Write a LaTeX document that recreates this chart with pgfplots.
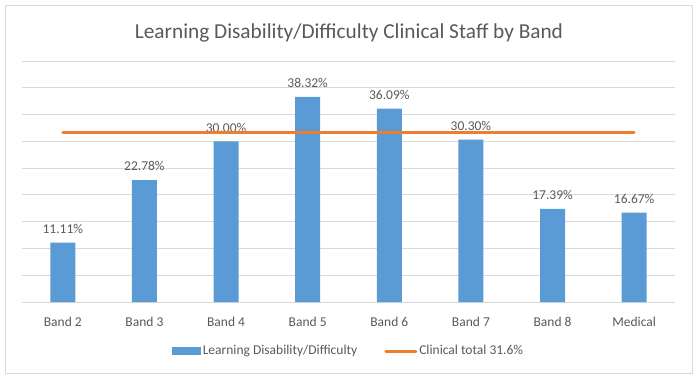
\documentclass[border=0pt]{standalone}
\usepackage{pgfplots}
\pgfplotsset{compat=1.18}
\usepackage{fontspec}
\setmainfont{Carlito}
\definecolor{barblue}{HTML}{5B9BD5}
\definecolor{lineorange}{HTML}{ED7D31}
\definecolor{gridgray}{HTML}{D9D9D9}
\definecolor{textgray}{HTML}{595959}
\begin{document}
\begin{tikzpicture}
\path[use as bounding box] (-22bp,-80bp) rectangle (678bp,302bp);
\draw[gridgray, line width=1bp] (-16.5bp,-71.5bp) rectangle (670.5bp,296.5bp);
\node[text=textgray, font=\fontsize{21.3bp}{25bp}\selectfont] at (327bp,269.5bp) {Learning Disability/Difficulty Clinical Staff by Band};
\begin{axis}[
  at={(40.8bp,0)}, anchor=origin,
  scale only axis,
  width=653bp, height=241bp,
  xmin=-0.5, xmax=7.5,
  ymin=0, ymax=45,
  ytick={0,5,...,45},
  yticklabels={},
  xtick={0,...,7},
  xticklabels={Band 2,Band 3,Band 4,Band 5,Band 6,Band 7,Band 8,Medical},
  major tick length=0pt,
  axis line style={draw=none},
  ymajorgrids, grid style={gridgray, line width=1bp},
  xticklabel style={text=textgray, font=\fontsize{13.5bp}{16bp}\selectfont, anchor=base, yshift=-24bp},
  clip mode=individual,
  legend style={at={(0.5,0)}, anchor=center, yshift=-49bp, draw=none, fill=none,
    legend columns=2, font=\fontsize{13.5bp}{16bp}\selectfont, text=textgray,
    /tikz/every even column/.append style={column sep=25bp}},
  legend image code/.code={},
]
\addplot[ybar, bar width=25bp, fill=barblue, draw=none,
  nodes near coords={\pgfmathprintnumber[fixed,zerofill,precision=2]{\pgfplotspointmeta}\%},
  nodes near coords style={text=textgray, font=\fontsize{13.5bp}{16bp}\selectfont, anchor=south, inner sep=0pt, yshift=9bp},
  /pgf/number format/assume math mode=true,
  legend image code/.code={\fill[barblue] (0bp,-4bp) rectangle (29bp,4bp);}
] coordinates {(0,11.11) (1,22.78) (2,30.00) (3,38.32) (4,36.09) (5,30.30) (6,17.39) (7,16.67)};
\addlegendentry{Learning Disability/Difficulty}
\addplot[lineorange, line width=3bp, line cap=round, mark=none,
  legend image code/.code={\draw[lineorange, line width=3bp] (0bp,0bp) -- (30bp,0bp);}
] coordinates {(0,31.6) (7,31.6)};
\addlegendentry{Clinical total 31.6\%}
\end{axis}
\end{tikzpicture}
\end{document}
